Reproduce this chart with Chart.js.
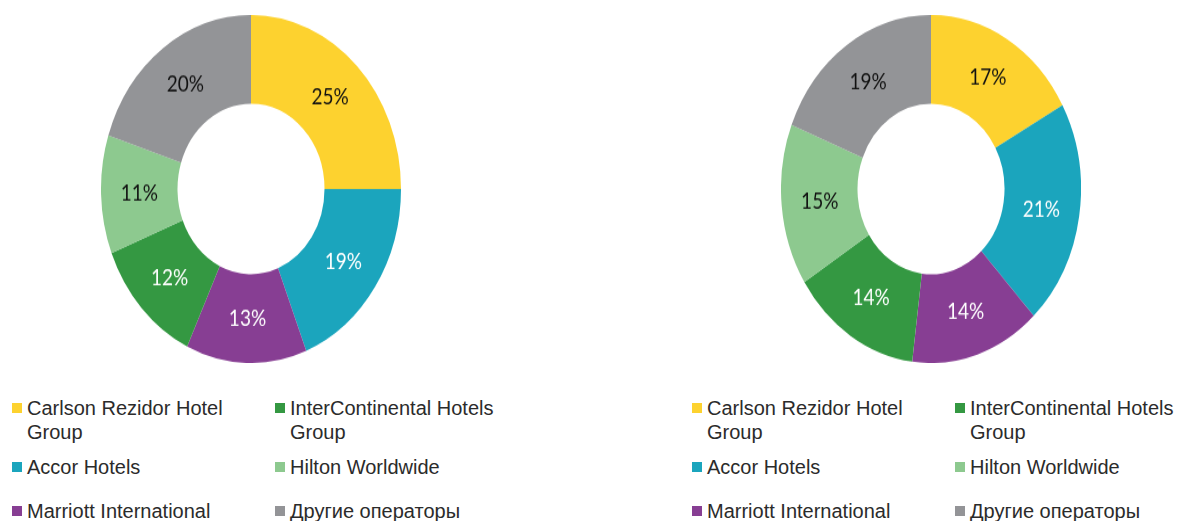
<!DOCTYPE html>
<html>
<head>
<meta charset="utf-8">
<script src="https://cdn.jsdelivr.net/npm/chart.js@4"></script>
<style>
  html, body { margin: 0; padding: 0; background: #ffffff; width: 1179px; height: 521px; overflow: hidden; position: relative; }
  .wrap { position: absolute; top: 15px; width: 300px; height: 300px; transform: scaleY(1.16); transform-origin: 0 0; }
  .legend { position: absolute; font-family: "Liberation Sans", Arial, sans-serif; font-size: 20px; color: #2b2b2b; line-height: 24px; }
  .item { position: absolute; width: 240px; padding-left: 15px; }
  .sq { position: absolute; left: 0; top: 7px; width: 10px; height: 10px; }
</style>
</head>
<body>
<div class="wrap" style="left:101px"><canvas id="c1" width="300" height="300"></canvas></div>
<div class="wrap" style="left:781px"><canvas id="c2" width="300" height="300"></canvas></div>
<div class="legend" id="leg1" style="left:12px; top:396px"></div>
<div class="legend" id="leg2" style="left:692px; top:396px"></div>
<script>
// Data
const operators = ["Carlson Rezidor Hotel Group", "Accor Hotels", "Marriott International", "InterContinental Hotels Group", "Hilton Worldwide", "Другие операторы"];
const sharesLeft = [25, 19, 13, 12, 11, 20];
const sharesRight = [17, 21, 14, 14, 15, 19];

// Styles
const palette = ["#FDD22F", "#1BA5BD", "#873E93", "#349842", "#8DC98F", "#939497"];
const labelColors = ["#111111", "#ffffff", "#ffffff", "#ffffff", "#111111", "#111111"];

const pctLabels = {
  id: 'pctLabels',
  afterDatasetsDraw(chart) {
    const ctx = chart.ctx;
    const meta = chart.getDatasetMeta(0);
    const vals = chart.data.datasets[0].data;
    ctx.save();
    ctx.font = '19px Lato, "Open Sans", sans-serif';
    ctx.textAlign = 'center';
    ctx.textBaseline = 'middle';
    meta.data.forEach((arc, i) => {
      const p = arc.tooltipPosition();
      ctx.fillStyle = labelColors[i];
      ctx.fillText(vals[i] + '%', p.x, p.y);
    });
    ctx.restore();
  }
};

function makeChart(id, values) {
  new Chart(document.getElementById(id), {
    type: 'doughnut',
    data: { labels: operators, datasets: [{ data: values, backgroundColor: palette, borderWidth: 0 }] },
    options: {
      responsive: false,
      devicePixelRatio: 1,
      animation: false,
      cutout: '49%',
      layout: { padding: 0 },
      plugins: { legend: { display: false }, tooltip: { enabled: false } }
    },
    plugins: [pctLabels]
  });
}
makeChart('c1', sharesLeft);
makeChart('c2', sharesRight);

// Legend (column-major: 3 rows x 2 columns)
const rowTops = [0, 59, 103];
const colLefts = [0, 263];
function buildLegend(id) {
  const el = document.getElementById(id);
  operators.forEach((name, i) => {
    const col = Math.floor(i / 3), row = i % 3;
    const d = document.createElement('div');
    d.className = 'item';
    d.style.left = colLefts[col] + 'px';
    d.style.top = rowTops[row] + 'px';
    d.style.width = '215px';
    const s = document.createElement('span');
    s.className = 'sq';
    s.style.background = palette[i];
    d.appendChild(s);
    d.appendChild(document.createTextNode(name));
    el.appendChild(d);
  });
}
buildLegend('leg1');
buildLegend('leg2');
</script>
</body>
</html>
